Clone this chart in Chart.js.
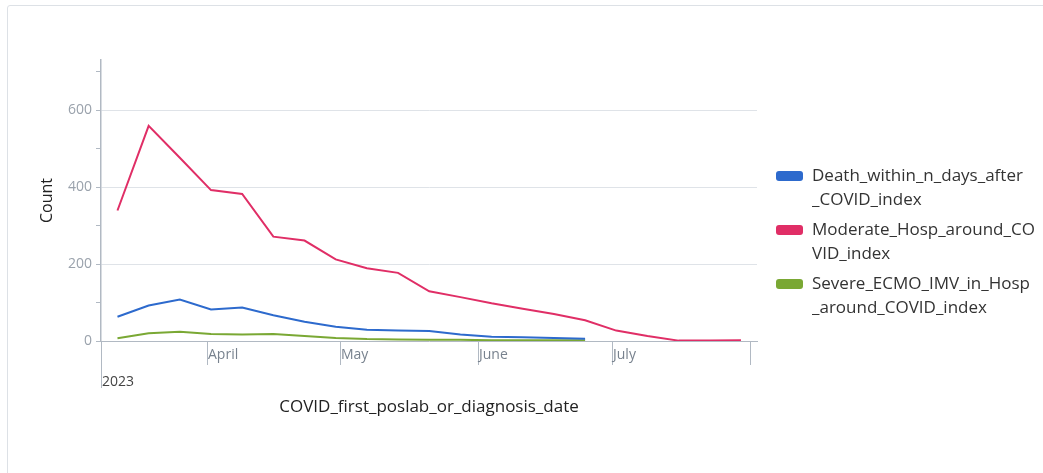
<!DOCTYPE html>
<html>
<head>
<meta charset="utf-8">
<script src="https://cdn.jsdelivr.net/npm/chart.js@4"></script>
<style>
  html, body { margin: 0; padding: 0; background: #fff; }
  body { width: 1043px; height: 473px; position: relative; overflow: hidden; font-family: "Open Sans", sans-serif; }
  .card { position: absolute; left: 7px; top: 5px; width: 1100px; height: 520px; border: 1px solid #dde1e6; border-radius: 3px; }
  #chart { position: absolute; left: 0; top: 0; }
  #legend { position: absolute; left: 776px; top: 163px; }
  .item { position: relative; padding-left: 36px; margin-bottom: 6px; font-size: 17px; line-height: 24px; color: #333; width: 240px; }
  .sw { position: absolute; left: 0; top: 8px; width: 27px; height: 10px; border-radius: 3px; }
</style>
</head>
<body>
<div class="card"></div>
<canvas id="chart" width="1043" height="473"></canvas>
<div id="legend"></div>
<script>
// weekly counts, week starting on Sunday
const weeks = ['2023-03-12','2023-03-19','2023-03-26','2023-04-02','2023-04-09','2023-04-16','2023-04-23',
  '2023-04-30','2023-05-07','2023-05-14','2023-05-21','2023-05-28','2023-06-04','2023-06-11','2023-06-18',
  '2023-06-25','2023-07-02','2023-07-09','2023-07-16','2023-07-23','2023-07-30'];
const seriesNames = ['Death_within_n_days_after_COVID_index','Moderate_Hosp_around_COVID_index','Severe_ECMO_IMV_in_Hosp_around_COVID_index'];
const legendLines = [['Death_within_n_days_after','_COVID_index'],['Moderate_Hosp_around_CO','VID_index'],['Severe_ECMO_IMV_in_Hosp','_around_COVID_index']];
const deaths   = [63, 92, 108, 82, 87, 67, 50, 37, 29, 27, 26, 17, 11, 10, 8, 6];
const moderate = [339, 559, 476, 392, 382, 271, 261, 212, 189, 177, 129, 114, 98, 84, 70, 54, 27, 13, 1, 1, 2];
const severe   = [7, 20, 24, 18, 17, 18, 13, 8, 5, 4, 3, 3, 2, 2, 2, 2];
const monthStarts = ['2023-04-01','2023-05-01','2023-06-01','2023-07-01','2023-08-01'];
const monthLabels = ['April','May','June','July',''];
const yearLabel = '2023';
const colors = ['rgb(45,106,205)','rgb(224,46,102)','rgb(122,168,52)'];

function doy(s){
  return (Date.parse(s + 'T00:00:00Z') - Date.UTC(2023,0,1)) / 864e5 + 1;
}
function pts(vals){ return vals.map((v,i)=>({x: doy(weeks[i]), y: v})); }

const axisGray = '#b1b9c3';
const labelGray = '#9aa2ac';

// month ticks below the x axis, labels sit to the right of each tick
const timeAxis = {
  id: 'timeAxis',
  afterDraw(chart){
    const {ctx, chartArea} = chart;
    const x = chart.scales.x;
    const y0 = chartArea.bottom;
    ctx.save();
    ctx.strokeStyle = axisGray;
    ctx.lineWidth = 1;
    ctx.beginPath();
    ctx.moveTo(chartArea.left + 0.5, y0);
    ctx.lineTo(chartArea.left + 0.5, y0 + 47);
    monthStarts.forEach(m=>{
      const px = Math.round(x.getPixelForValue(doy(m))) + 0.5;
      ctx.moveTo(px, y0);
      ctx.lineTo(px, y0 + 24);
    });
    ctx.stroke();
    ctx.font = '14px "Open Sans"';
    ctx.textBaseline = 'middle';
    ctx.fillStyle = '#78828e';
    monthStarts.forEach((m,i)=>{
      const px = Math.round(x.getPixelForValue(doy(m)));
      ctx.fillText(monthLabels[i], px + 1, y0 + 14);
    });
    ctx.fillStyle = '#444';
    ctx.fillText(yearLabel, chartArea.left + 1, y0 + 41);
    ctx.restore();
  }
};

const chart = new Chart(document.getElementById('chart'), {
  type: 'line',
  data: {
    datasets: [deaths, moderate, severe].map((vals,i)=>({
      label: seriesNames[i],
      data: pts(vals),
      borderColor: colors[i],
      backgroundColor: colors[i],
      borderWidth: 2,
      pointRadius: 0,
      tension: 0
    }))
  },
  options: {
    responsive: false,
    animation: false,
    layout: { padding: { left: 0, right: 286, top: 60, bottom: 0 } },
    plugins: { legend: { display: false }, tooltip: { enabled: false } },
    scales: {
      x: {
        type: 'linear',
        min: doy('2023-03-08') + 0.3,
        max: doy('2023-08-02') + 0.6,
        grid: { display: false },
        border: { display: true, color: axisGray },
        ticks: { display: false },
        title: { display: true, text: 'COVID_first_poslab_or_diagnosis_date', color: '#222',
                 font: { family: 'Open Sans', size: 17 }, padding: { top: 0, bottom: 56 } },
        afterFit: s => { s.height = 132; }
      },
      y: {
        min: 0,
        max: 730,
        afterBuildTicks: s => { s.ticks = [0,100,200,300,400,500,600,700].map(v=>({value: v})); },
        grid: {
          color: c => (c.tick && c.tick.value > 0 && c.tick.value % 200 === 0) ? '#dfe3e8' : 'rgba(0,0,0,0)',
          tickColor: axisGray,
          tickLength: 5
        },
        border: { display: true, color: axisGray, width: 1.5 },
        ticks: {
          color: labelGray,
          font: { family: 'Open Sans', size: 14 },
          padding: 4,
          callback: v => v % 200 === 0 ? String(v) : ''
        },
        title: { display: true, text: 'Count', color: '#222',
                 font: { family: 'Open Sans', size: 16 }, padding: { top: 38, bottom: 0 } },
        afterFit: s => { s.width = 101; }
      }
    }
  },
  plugins: [timeAxis]
});

// legend on the right, built from the datasets
const legend = document.getElementById('legend');
chart.data.datasets.forEach((ds,i)=>{
  const item = document.createElement('div');
  item.className = 'item';
  item.innerHTML = `<span class="sw" style="background:${ds.borderColor}"></span>` + legendLines[i].join('<br>');
  legend.appendChild(item);
});
</script>
</body>
</html>
